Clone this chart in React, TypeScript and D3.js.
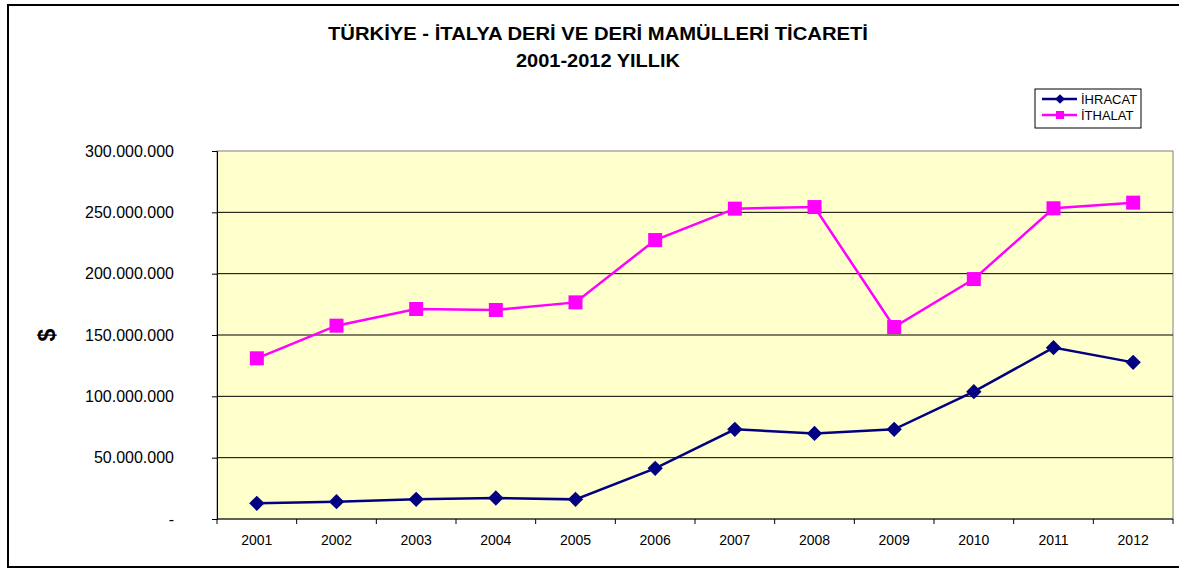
import * as d3 from "d3";
import { useEffect, useRef } from "react";

const years = ["2001", "2002", "2003", "2004", "2005", "2006", "2007", "2008", "2009", "2010", "2011", "2012"];
const ihracat = [12.8e6, 14.1e6, 16.0e6, 17.1e6, 16.0e6, 41.3e6, 73.1e6, 69.8e6, 73.1e6, 103.8e6, 139.7e6, 127.7e6];
const ithalat = [131.0e6, 157.6e6, 171.2e6, 170.4e6, 176.6e6, 227.4e6, 253.0e6, 254.3e6, 156.5e6, 195.6e6, 253.3e6, 257.9e6];
const yTicks = [0, 50e6, 100e6, 150e6, 200e6, 250e6, 300e6];
const titleLines = ["TÜRKİYE - İTALYA DERİ VE DERİ MAMÜLLERİ TİCARETİ", "2001-2012 YILLIK"];

const W = 1179;
const H = 569;
const margin = { top: 151, left: 217, right: 6, bottom: 50 };

const fmt = (v: number) => (v === 0 ? "-" : d3.format(",")(v).replace(/,/g, "."));

export default function App() {
  const ref = useRef<SVGSVGElement>(null);

  useEffect(() => {
    const svg = d3.select(ref.current);
    svg.selectAll("*").remove();
    const font = "'Liberation Sans', Arial, sans-serif";

    const x = d3.scaleBand().domain(years).range([margin.left, W - margin.right]);
    const y = d3.scaleLinear().domain([0, 300e6]).range([H - margin.bottom, margin.top]);

    // outer frame
    svg.append("rect").attr("x", 8).attr("y", 5).attr("width", 1172).attr("height", 562)
      .attr("fill", "white").attr("stroke", "black").attr("stroke-width", 2);

    // title
    const titleLen = [540, 164];
    titleLines.forEach((t, i) => {
      svg.append("text").attr("x", 598).attr("y", 40 + i * 27)
        .attr("text-anchor", "middle").attr("font-family", font)
        .attr("font-weight", "bold").attr("font-size", 18)
        .attr("textLength", titleLen[i]).attr("lengthAdjust", "spacingAndGlyphs").text(t);
    });

    // plot area
    const [x0, x1] = x.range();
    svg.append("rect").attr("x", x0).attr("y", margin.top)
      .attr("width", x1 - x0).attr("height", y(0) - margin.top)
      .attr("fill", "#ffffcc").attr("stroke", "#808080").attr("stroke-width", 1);

    // grid lines
    svg.append("g").selectAll("line").data(yTicks.filter(d => d > 0 && d < 300e6)).join("line")
      .attr("x1", x0).attr("x2", x1).attr("y1", d => y(d)).attr("y2", d => y(d))
      .attr("stroke", "black").attr("stroke-width", 1);

    // y axis
    const yAxis = svg.append("g").attr("transform", `translate(${x0},0)`)
      .call(d3.axisLeft(y).tickValues(yTicks).tickSize(5).tickPadding(38).tickFormat(d => fmt(+d)));
    yAxis.select(".domain").attr("stroke", "black");
    yAxis.selectAll("text").attr("font-family", font).attr("font-size", 16).attr("fill", "black");

    // x axis
    const xAxis = svg.append("g").attr("transform", `translate(0,${y(0)})`);
    xAxis.append("line").attr("x1", x0).attr("x2", x1).attr("stroke", "black");
    xAxis.selectAll(".tk").data([...years.map(d => x(d)!), x1]).join("line")
      .attr("x1", d => d).attr("x2", d => d).attr("y1", 0).attr("y2", 5).attr("stroke", "black");
    xAxis.selectAll("text").data(years).join("text")
      .attr("x", d => x(d)! + x.bandwidth() / 2).attr("y", 26)
      .attr("text-anchor", "middle").attr("font-family", font).attr("font-size", 14).text(d => d);

    // axis title
    svg.append("text").attr("transform", "translate(47,335) rotate(-90)")
      .attr("text-anchor", "middle").attr("dominant-baseline", "central")
      .attr("font-family", font).attr("font-weight", "bold").attr("font-size", 23).text("$");

    const cx = (i: number) => x(years[i])! + x.bandwidth() / 2;
    const line = d3.line<number>().x((_, i) => cx(i)).y(d => y(d));

    // ithalat
    svg.append("path").datum(ithalat).attr("d", line).attr("fill", "none")
      .attr("stroke", "#ff00ff").attr("stroke-width", 2.5);
    svg.append("g").selectAll("rect").data(ithalat).join("rect")
      .attr("x", (_, i) => cx(i) - 7).attr("y", d => y(d) - 7)
      .attr("width", 14).attr("height", 14).attr("fill", "#ff00ff");

    // ihracat
    svg.append("path").datum(ihracat).attr("d", line).attr("fill", "none")
      .attr("stroke", "#000080").attr("stroke-width", 2.5);
    const diamond = d3.symbol().type(d3.symbolDiamond2).size(150);
    svg.append("g").selectAll("path").data(ihracat).join("path")
      .attr("d", diamond).attr("transform", (d, i) => `translate(${cx(i)},${y(d)})`)
      .attr("fill", "#000080");

    // legend
    const lg = svg.append("g");
    lg.append("rect").attr("x", 1035).attr("y", 89).attr("width", 106).attr("height", 39)
      .attr("fill", "white").attr("stroke", "black").attr("stroke-width", 1);
    const items = [
      { name: "İHRACAT", color: "#000080", shape: "diamond" },
      { name: "İTHALAT", color: "#ff00ff", shape: "square" },
    ];
    items.forEach((it, i) => {
      const ly = 99 + i * 16;
      lg.append("line").attr("x1", 1042).attr("x2", 1077).attr("y1", ly).attr("y2", ly)
        .attr("stroke", it.color).attr("stroke-width", 2.5);
      if (it.shape === "diamond") {
        lg.append("path").attr("d", d3.symbol().type(d3.symbolDiamond2).size(60)())
          .attr("transform", `translate(1060,${ly})`).attr("fill", it.color);
      } else {
        lg.append("rect").attr("x", 1056).attr("y", ly - 4).attr("width", 8).attr("height", 8)
          .attr("fill", it.color);
      }
      lg.append("text").attr("x", 1081).attr("y", ly + 5).attr("font-family", font)
        .attr("font-size", 13).text(it.name);
    });
  }, []);

  return (
    <svg ref={ref} width={W} height={H} style={{ position: "absolute", left: 0, top: 0 }} />
  );
}
